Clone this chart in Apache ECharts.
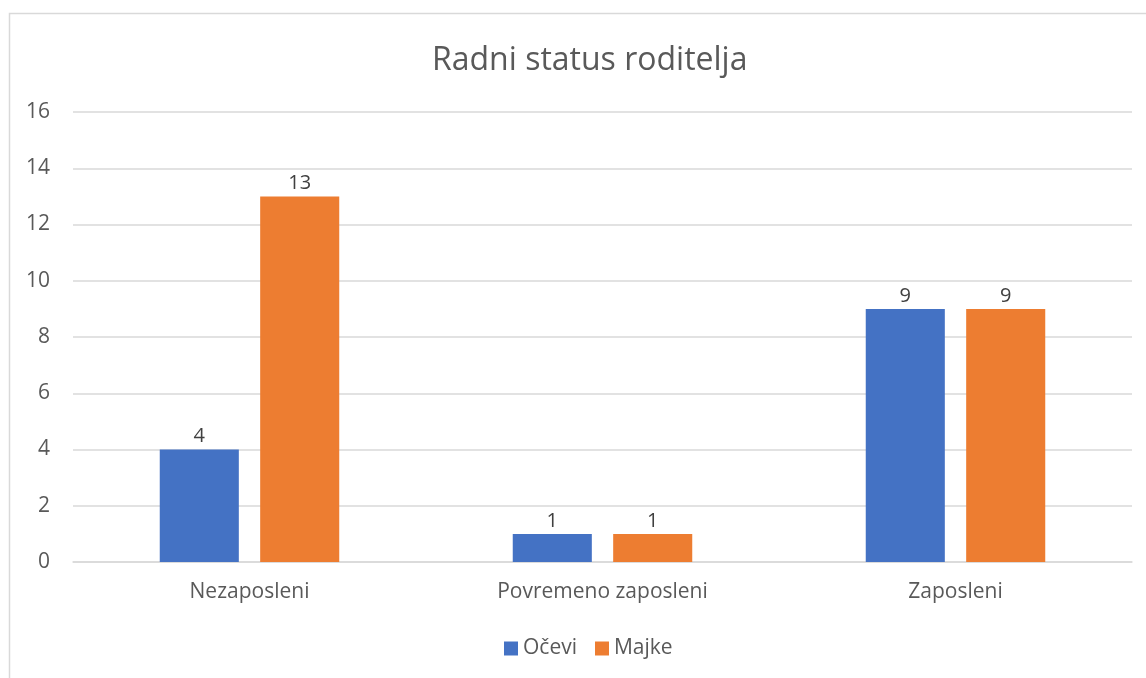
<!DOCTYPE html>
<html><head><meta charset="utf-8">
<script src="https://cdn.jsdelivr.net/npm/echarts@6/dist/echarts.min.js"></script>
<style>html,body{margin:0;padding:0;background:#fff}#c{width:1146px;height:678px}</style>
</head><body><div id="c"></div>
<script>
const categories = ["Nezaposleni", "Povremeno zaposleni", "Zaposleni"];
const ocevi = [4, 1, 9];
const majke = [13, 1, 9];
const yTicks = {min: 0, max: 16, interval: 2};
const FONT = "'Open Sans', 'Noto Sans', sans-serif";
const chart = echarts.init(document.getElementById('c'), null, {renderer: 'canvas'});
const labelStyle = {show: true, position: 'top', color: '#404040', fontSize: 20, fontFamily: FONT, distance: 3};
chart.setOption({
  animation: false,
  graphic: [{type: 'rect', shape: {x: 9.5, y: 13.5, width: 1150, height: 700}, style: {fill: 'none', stroke: '#d9d9d9', lineWidth: 1.5}, silent: true, z: -1}],
  title: {text: 'Radni status roditelja', left: 427, top: 40, textStyle: {color: '#595959', fontSize: 32, fontWeight: 'normal', fontFamily: FONT}},
  grid: {left: 73, right: 14, top: 112, bottom: 116},
  legend: {bottom: 14, left: 499, itemWidth: 14, itemHeight: 14, itemGap: 18, icon: 'rect', textStyle: {color: '#595959', fontSize: 21, fontFamily: FONT}, data: ['Očevi', 'Majke']},
  xAxis: {type: 'category', data: categories, axisLine: {show: true, lineStyle: {color: '#d9d9d9', width: 1.5}}, axisTick: {show: false}, axisLabel: {color: '#595959', fontSize: 21, fontFamily: FONT, margin: 20}},
  yAxis: {type: 'value', min: yTicks.min, max: yTicks.max, interval: yTicks.interval, axisLine: {show: false}, axisTick: {show: false}, splitLine: {lineStyle: {color: '#d9d9d9', width: 1.5}}, axisLabel: {color: '#595959', fontSize: 21, fontFamily: FONT, margin: 23}},
  series: [
    {name: 'Očevi', type: 'bar', data: ocevi, barWidth: '22.4%', barGap: '27%', itemStyle: {color: '#4472c4'}, label: labelStyle},
    {name: 'Majke', type: 'bar', data: majke, barWidth: '22.4%', itemStyle: {color: '#ed7d31'}, label: labelStyle}
  ]
});
</script></body></html>
